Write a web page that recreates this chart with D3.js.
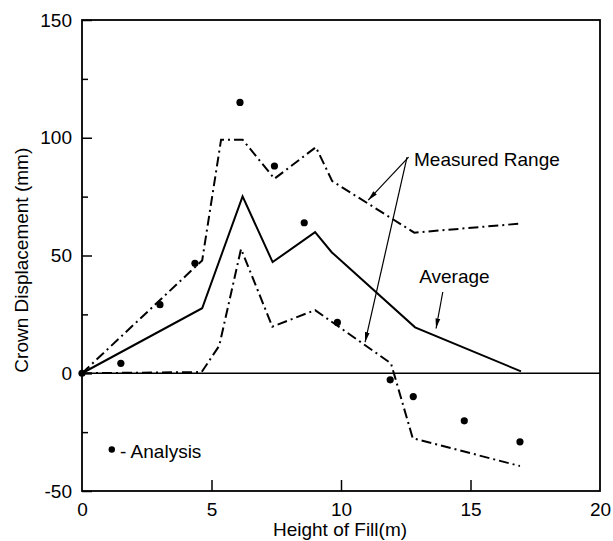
<!DOCTYPE html>
<html lang="en">
<head>
<meta charset="UTF-8">
<title>Crown Displacement vs Height of Fill</title>
<script src="https://d3js.org/d3.v7.min.js"></script>
<style>
    body { margin: 0; background: #fff; }
    svg { display: block; }
    text { font-family: "Liberation Sans", Arial, Helvetica, sans-serif; fill: #000; }
</style>
</head>
<body>
<svg id="chart" width="613" height="541"></svg>
<script>
// measured range, upper bound
const upperX = [0, 4.64, 5.37, 6.2, 7.43, 9.03, 9.66, 12.83, 16.87];
const upperY = [0, 47.9, 99.2, 99.2, 82.6, 96, 81.6, 59.7, 63.5];
// measured range, lower bound
const lowerX = [0, 4.62, 5.3, 6.14, 7.35, 9.0, 11.93, 12.77, 16.91];
const lowerY = [0, 0.5, 11.7, 52.8, 19.8, 26.8, 4.2, -27.6, -39.4];
// average of measurements
const avgX = [0, 4.64, 6.2, 7.36, 9.0, 9.64, 12.86, 16.95];
const avgY = [0, 27.6, 75.1, 47.2, 59.9, 51.4, 19.5, 0.8];
// analysis results
const anaX = [0, 1.5, 3.01, 4.36, 6.1, 7.43, 8.58, 9.86, 11.9, 12.79, 14.76, 16.91];
const anaY = [0, 4.2, 29.1, 46.7, 115, 88, 63.9, 21.6, -2.8, -9.9, -20.2, -29.1];

const xTicks = [0, 5, 10, 15, 20];
const yTicks = [150, 100, 50, 0, -50];
const yMinor = [125, 75, 25, -25];

const svg = d3.select("#chart");
const mLeft = 82, mRight = 600, mTop = 20, mBottom = 491;

const x = d3.scaleLinear().domain([0, 20]).range([mLeft, mRight]);
const y = d3.scaleLinear().domain([-50, 150]).range([mBottom, mTop]);

const pts = (xs, ys) => xs.map((v, i) => [v, ys[i]]);
const line = d3.line().x(d => x(d[0])).y(d => y(d[1]));

// arrow marker
svg.append("defs").append("marker")
    .attr("id", "head")
    .attr("viewBox", "0 0 10 6")
    .attr("refX", 10).attr("refY", 3)
    .attr("markerWidth", 10).attr("markerHeight", 6)
    .attr("markerUnits", "userSpaceOnUse")
    .attr("orient", "auto")
    .append("path").attr("d", "M0,0.6 L10,3 L0,5.4 Z").attr("fill", "#000");

// frame
svg.append("rect")
    .attr("x", mLeft).attr("y", mTop)
    .attr("width", mRight - mLeft).attr("height", mBottom - mTop)
    .attr("fill", "none").attr("stroke", "#000").attr("stroke-width", 1.8);

// zero line
svg.append("line")
    .attr("x1", x(0)).attr("x2", x(20))
    .attr("y1", y(0)).attr("y2", y(0))
    .attr("stroke", "#000").attr("stroke-width", 1.5);

// y axis ticks (inward)
const yAxis = svg.append("g").attr("transform", `translate(${mLeft},0)`)
    .call(d3.axisLeft(y).tickValues(yTicks).tickSize(-10).tickPadding(10).tickFormat(d => String(d)));
yAxis.select(".domain").remove();
yAxis.selectAll(".tick line").attr("stroke-width", 1.5);
yAxis.selectAll("text").attr("font-size", 19).attr("fill", "#000")
    .attr("font-family", "Liberation Sans, Arial, sans-serif");
svg.append("g").attr("transform", `translate(${mLeft},0)`)
    .call(d3.axisLeft(y).tickValues(yMinor).tickSize(-6).tickFormat(""))
    .call(g => g.select(".domain").remove())
    .selectAll(".tick line").attr("stroke-width", 1.5);

// x axis ticks (inward)
const xAxis = svg.append("g").attr("transform", `translate(0,${mBottom})`)
    .call(d3.axisBottom(x).tickValues(xTicks).tickSize(-11).tickPadding(12).tickFormat(d => String(d)));
xAxis.select(".domain").remove();
xAxis.selectAll(".tick line").attr("stroke-width", 1.5)
    .filter(d => d === 0 || d === 20).remove();
xAxis.selectAll("text").attr("font-size", 19).attr("fill", "#000")
    .attr("font-family", "Liberation Sans, Arial, sans-serif");

// axis titles
svg.append("text")
    .attr("x", (mLeft + mRight) / 2 - 1).attr("y", 536)
    .attr("text-anchor", "middle").attr("font-size", 19)
    .text("Height of Fill(m)");
svg.append("text")
    .attr("transform", `translate(28,${y(48)}) rotate(-90)`)
    .attr("text-anchor", "middle").attr("font-size", 19)
    .text("Crown Displacement (mm)");

// measured range (dash-dot)
[pts(upperX, upperY), pts(lowerX, lowerY)].forEach(d => {
    svg.append("path").datum(d)
        .attr("d", line)
        .attr("fill", "none").attr("stroke", "#000")
        .attr("stroke-width", 2)
        .attr("stroke-dasharray", "10,4,2,4");
});

// average (solid)
svg.append("path").datum(pts(avgX, avgY))
    .attr("d", line)
    .attr("fill", "none").attr("stroke", "#000").attr("stroke-width", 2);

// analysis points
svg.append("g").selectAll("circle")
    .data(pts(anaX, anaY))
    .join("circle")
    .attr("cx", d => x(d[0])).attr("cy", d => y(d[1]))
    .attr("r", 3.6).attr("fill", "#000");

// annotations
svg.append("text").attr("x", x(12.82)).attr("y", y(87.9))
    .attr("font-size", 19).text("Measured Range");
svg.append("text").attr("x", x(13.02)).attr("y", y(38.2))
    .attr("font-size", 19).text("Average");

const arrows = [
    [[12.61, 91.8], [11.05, 73.5]],
    [[12.55, 91.8], [10.93, 13.2]],
    [[13.93, 34.5], [13.67, 19.0]]
];
arrows.forEach(a => {
    svg.append("line")
        .attr("x1", x(a[0][0])).attr("y1", y(a[0][1]))
        .attr("x2", x(a[1][0])).attr("y2", y(a[1][1]))
        .attr("stroke", "#000").attr("stroke-width", 1.2)
        .attr("marker-end", "url(#head)");
});

// legend
svg.append("circle").attr("cx", x(1.15)).attr("cy", y(-32.4))
    .attr("r", 3.2).attr("fill", "#000");
svg.append("text").attr("x", x(1.47)).attr("y", y(-35.8))
    .attr("font-size", 19).text("- Analysis");
</script>
</body>
</html>
